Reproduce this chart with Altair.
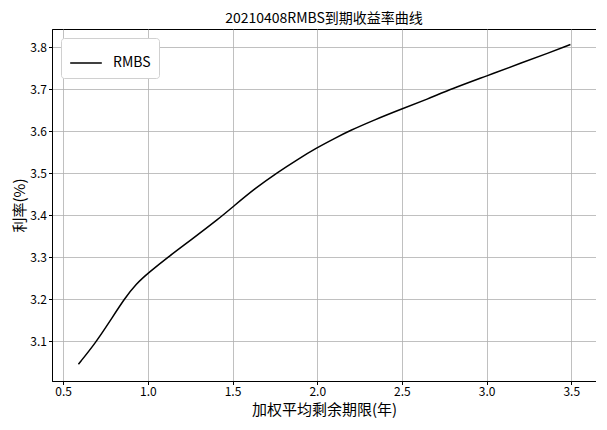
import altair as alt
import pandas as pd

# Curve
maturity = [0.590, 0.690, 0.780, 0.862, 0.930, 1.005, 1.119, 1.252, 1.424, 1.500,
            1.634, 1.767, 1.882, 1.996, 2.110, 2.187, 2.340, 2.495, 2.650, 2.797,
            2.999, 3.216, 3.360, 3.495]
yields = [3.045, 3.095, 3.150, 3.201, 3.236, 3.263, 3.300, 3.340, 3.393, 3.419,
          3.464, 3.502, 3.532, 3.560, 3.584, 3.600, 3.627, 3.652, 3.676, 3.701,
          3.731, 3.764, 3.785, 3.806]
series = ["RMBS"] * len(maturity)

x_ticks = [0.5, 1.0, 1.5, 2.0, 2.5, 3.0, 3.5]
y_ticks = [3.1, 3.2, 3.3, 3.4, 3.5, 3.6, 3.7, 3.8]

df = pd.DataFrame({"maturity": maturity, "yield": yields, "series": series})

FONT = "Noto Sans CJK SC"

chart = alt.Chart(df).mark_line(color="black", strokeWidth=1.5, interpolate="basis").encode(
    x=alt.X("maturity:Q",
            scale=alt.Scale(domain=[0.434, 3.646], nice=False, zero=False),
            axis=alt.Axis(values=x_ticks, format=".1f", title="加权平均剩余期限(年)")),
    y=alt.Y("yield:Q",
            scale=alt.Scale(domain=[3.005, 3.843], nice=False, zero=False),
            axis=alt.Axis(values=y_ticks, format=".1f", title="利率(%)")),
    color=alt.Color("series:N", scale=alt.Scale(range=["black"]),
                    legend=alt.Legend(title=None, orient="top-left", offset=9,
                                      symbolType="stroke", symbolSize=1000,
                                      symbolStrokeWidth=1.5,
                                      labelFontSize=14, labelFont=FONT,
                                      padding=8, strokeColor="#d0d0d0",
                                      fillColor="white", cornerRadius=3,
                                      labelOffset=10)),
).properties(
    width=544,
    height=352,
    title=alt.Title("20210408RMBS到期收益率曲线", font=FONT, fontSize=14,
                    fontWeight="normal", offset=3, anchor="middle"),
    autosize=alt.AutoSizeParams(type="none"),
    padding={"left": 44, "top": 21, "right": 0, "bottom": 40},
).configure_view(
    stroke="black", strokeWidth=1
).configure_axis(
    labelFont=FONT, labelFontSize=12, labelColor="black",
    titleFont=FONT, titleFontSize=15, titleFontWeight="normal", titleColor="black",
    gridColor="#b0b0b0", gridWidth=0.8,
    domainColor="black", tickColor="black", tickSize=3.5,
    labelPadding=2,
).configure_axisX(
    titlePadding=5
).configure_axisY(
    titlePadding=2
)

chart.save("out.html", embed_options={"renderer": "svg", "actions": False})
